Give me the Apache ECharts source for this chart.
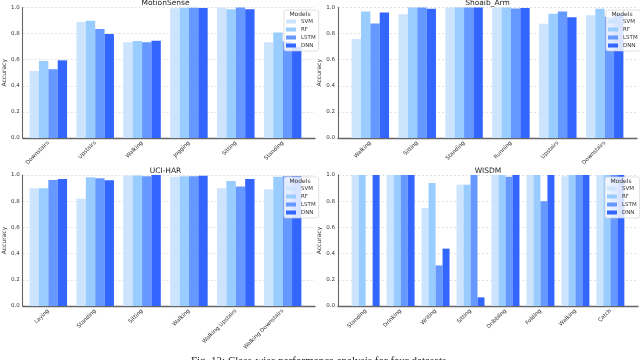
<!DOCTYPE html>
<html>
<head>
<meta charset="utf-8">
<script src="https://cdn.jsdelivr.net/npm/echarts@6/dist/echarts.min.js"></script>
<style>
html,body{margin:0;padding:0;background:#fff;}
#chart{width:640px;height:360px;}
</style>
</head>
<body>
<div id="chart"></div>
<script>
// ---- data ----
const modelNames = ['SVM', 'RF', 'LSTM', 'DNN'];
const yTicks = [0.0, 0.2, 0.4, 0.6, 0.8, 1.0];

const msTitle = 'MotionSense';
const msCats = ['Downstairs', 'Upstairs', 'Walking', 'Jogging', 'Sitting', 'Standing'];
const msSVM  = [0.514, 0.888, 0.733, 0.995, 1.000, 0.733];
const msRF   = [0.590, 0.898, 0.743, 0.998, 0.987, 0.809];
const msLSTM = [0.527, 0.835, 0.733, 0.998, 1.000, 0.740];
const msDNN  = [0.595, 0.796, 0.746, 0.997, 0.987, 0.700];

const saTitle = 'Shoaib_Arm';
const saCats = ['Walking', 'Sitting', 'Standing', 'Running', 'Upstairs', 'Downstairs'];
const saSVM  = [0.758, 0.949, 1.000, 1.000, 0.875, 0.941];
const saRF   = [0.969, 1.000, 1.000, 1.000, 0.952, 0.990];
const saLSTM = [0.878, 1.000, 1.000, 0.992, 0.969, 0.930];
const saDNN  = [0.962, 0.990, 1.000, 0.997, 0.926, 0.950];

const ucTitle = 'UCI-HAR';
const ucCats = ['Laying', 'Standing', 'Sitting', 'Walking', 'Walking Upstairs', 'Walking Downstairs'];
const ucSVM  = [0.898, 0.819, 0.997, 0.987, 0.898, 0.891];
const ucRF   = [0.898, 0.982, 0.997, 0.990, 0.954, 0.987];
const ucLSTM = [0.962, 0.975, 0.990, 0.990, 0.913, 0.990];
const ucDNN  = [0.969, 0.959, 1.000, 0.995, 0.969, 0.990];

const wiTitle = 'WISDM';
const wiCats = ['Standing', 'Drinking', 'Writing', 'Sitting', 'Dribbling', 'Folding', 'Walking', 'Catch'];
const wiSVM  = [1.000, 1.000, 0.748, 0.926, 1.000, 1.000, 0.990, 1.000];
const wiRF   = [1.000, 1.000, 0.939, 0.926, 1.000, 1.000, 1.000, 1.000];
const wiLSTM = [0.000, 1.000, 0.310, 1.000, 0.987, 0.800, 1.000, 1.000];
const wiDNN  = [1.000, 1.000, 0.438, 0.066, 1.000, 1.000, 1.000, 1.000];

const caption = 'Fig. 13: Class-wise performance analysis for four datasets.';

// ---- styling / layout ----
const colors = ['#cce4fd', '#99ccff', '#6699ff', '#3366ff'];
const FONT = 'DejaVu Sans';

const panels = [
  {title: msTitle, cats: msCats, vals: [msSVM, msRF, msLSTM, msDNN], left: 16,  top: 7.5, width: 299, height: 130.5, legendLeft: 284, legendTop: 10},
  {title: saTitle, cats: saCats, vals: [saSVM, saRF, saLSTM, saDNN], left: 338, top: 7.5, width: 299, height: 130.5, legendLeft: 606, legendTop: 10},
  {title: ucTitle, cats: ucCats, vals: [ucSVM, ucRF, ucLSTM, ucDNN], left: 16,  top: 175, width: 299, height: 131,  legendLeft: 284, legendTop: 177},
  {title: wiTitle, cats: wiCats, vals: [wiSVM, wiRF, wiLSTM, wiDNN], left: 338, top: 175, width: 300, height: 131,  legendLeft: 605, legendTop: 177}
];

const grid = [], xAxis = [], yAxis = [], series = [], title = [], legend = [];

panels.forEach((p, i) => {
  const n = p.cats.length;
  const unit = p.width / (n - 1 + 0.8 + 0.1 * (n - 1 + 0.8));
  const off = (0.05 * (n - 1 + 0.8) - 0.1) * unit;
  const fi = 2 * i, di = 2 * i + 1;
  grid.push({left: p.left, top: p.top, width: p.width, height: p.height, containLabel: false});
  grid.push({left: p.left + off, top: p.top, width: p.width - 2 * off, height: p.height, containLabel: false});

  xAxis.push({
    gridIndex: fi, type: 'value', min: 0, max: 1,
    axisLine: {show: true, onZero: false, lineStyle: {color: '#666', width: 1.3}},
    axisTick: {show: false}, axisLabel: {show: false}, splitLine: {show: false}
  });
  xAxis.push({
    gridIndex: di, type: 'category', data: p.cats, boundaryGap: true,
    axisLine: {show: false}, axisTick: {show: false}, splitLine: {show: false},
    axisLabel: {interval: 0, rotate: 45, fontSize: 5.5, color: '#333', margin: 4, fontFamily: FONT}
  });
  yAxis.push({
    gridIndex: fi, type: 'value', min: yTicks[0], max: yTicks[yTicks.length - 1], interval: 0.2,
    axisLine: {show: true, lineStyle: {color: '#666', width: 1.1}},
    axisTick: {show: false},
    axisLabel: {fontSize: 5.5, color: '#333', margin: 3, fontFamily: FONT, formatter: v => v.toFixed(1)},
    splitLine: {show: true, lineStyle: {color: '#dcdcdc', width: 0.8, type: [2, 2]}},
    name: 'Accuracy', nameLocation: 'middle', nameRotate: 90, nameGap: 11,
    nameTextStyle: {fontSize: 6, color: '#333', fontFamily: FONT}
  });
  yAxis.push({
    gridIndex: di, type: 'value', min: 0, max: 1, show: false
  });

  modelNames.forEach((m, k) => {
    series.push({
      name: m, type: 'bar', xAxisIndex: di, yAxisIndex: di,
      data: p.vals[k], barGap: '0%', barCategoryGap: '20%',
      itemStyle: {color: colors[k]}, z: 2
    });
  });

  title.push({
    text: p.title, left: p.left + p.width / 2, top: p.top - 8, textAlign: 'center',
    textStyle: {fontSize: 7.5, fontWeight: 'normal', color: '#222', fontFamily: FONT}, padding: 0
  });

  legend.push({
    data: modelNames, orient: 'vertical', left: p.legendLeft, top: p.legendTop,
    padding: [8, 3, 2, 2], itemWidth: 10, itemHeight: 4, itemGap: 1, itemTextGap: 3,
    icon: 'rect', selectedMode: false,
    backgroundColor: 'rgba(255,255,255,0.82)', borderColor: '#ccc', borderWidth: 0.6, borderRadius: 2,
    textStyle: {fontSize: 5.5, color: '#333', fontFamily: FONT, lineHeight: 7},
    z: 10
  });
  title.push({
    text: 'Models', left: p.legendLeft + 16, top: p.legendTop + 1.5, textAlign: 'center', padding: 0,
    textStyle: {fontSize: 6, fontWeight: 'normal', color: '#333', fontFamily: FONT}, z: 11
  });
});

title.push({
  text: caption, left: 320, top: 356, textAlign: 'center', padding: 0,
  textStyle: {fontSize: 11, fontWeight: 'normal', color: '#222', fontFamily: 'Liberation Serif'}
});

const chart = echarts.init(document.getElementById('chart'), null, {renderer: 'canvas'});
chart.setOption({
  animation: false,
  backgroundColor: '#fff',
  grid, xAxis, yAxis, series, title, legend,
  tooltip: {show: false}
});
</script>
</body>
</html>
